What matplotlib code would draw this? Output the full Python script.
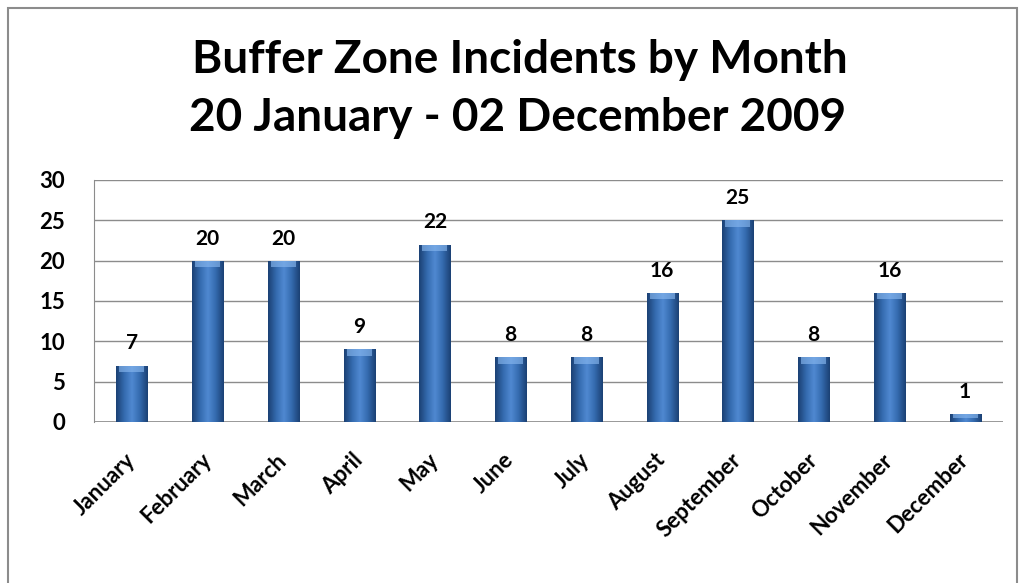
import numpy as np
import matplotlib
matplotlib.use("Agg")
import matplotlib.pyplot as plt
from matplotlib.colors import LinearSegmentedColormap
from matplotlib.patches import Rectangle

plt.rcParams["font.family"] = ["Lato", "DejaVu Sans"]

months = ["January", "February", "March", "April", "May", "June",
          "July", "August", "September", "October", "November", "December"]
incidents = [7, 20, 20, 9, 22, 8, 8, 16, 25, 8, 16, 1]

fig = plt.figure(figsize=(10.19, 5.83), dpi=100)
ax = fig.add_axes([94 / 1019, 1 - 422 / 583, 909 / 1019, 242 / 583])

# cylinder-ish horizontal gradient for the bars
cmap = LinearSegmentedColormap.from_list(
    "bar", ["#1b4174", "#346aae", "#5089d2", "#346aae", "#1b4174"])
grad = np.linspace(0, 1, 64).reshape(1, -1)

x = np.arange(len(months))
bars = ax.bar(x, incidents, width=0.41, color="none", edgecolor="none", zorder=3)

for bar, v in zip(bars, incidents):
    bx, bw, bh = bar.get_x(), bar.get_width(), bar.get_height()
    im = ax.imshow(grad, cmap=cmap, aspect="auto", extent=[bx, bx + bw, 0, bh],
                   zorder=3, interpolation="bicubic")
    im.set_clip_path(bar)
    # lighter cap on top
    cap = min(0.8, bh * 0.5)
    ax.add_patch(Rectangle((bx + bw * 0.1, bh - cap), bw * 0.8, cap,
                           facecolor="#86b6ee", edgecolor="none", alpha=0.65, zorder=4))
    ax.text(bx + bw / 2, bh + 1.5, str(v), ha="center", va="bottom",
            fontsize=15, fontweight="bold", zorder=5)

ax.set_xlim(-0.5, len(months) - 0.5)
ax.set_ylim(0, 30)
ax.set_yticks(range(0, 31, 5))
ax.yaxis.grid(True, color="#8c8c8c", linewidth=1)
ax.set_axisbelow(True)
for s in ["top", "right", "bottom"]:
    ax.spines[s].set_visible(False)
ax.spines["left"].set_color("#8c8c8c")
ax.axhline(0, color="#8c8c8c", linewidth=1.2, zorder=2)
ax.tick_params(axis="y", length=0, pad=21, labelsize=16)
ax.tick_params(axis="x", length=0, pad=25, labelsize=16)
for t in ax.get_yticklabels():
    t.set_fontweight("bold")
ax.set_xticks(x)
ax.set_xticklabels(months, rotation=45, ha="right", va="center",
                   rotation_mode="anchor", fontweight="bold")

fig.text(0.51, 1 - 60 / 583, "Buffer Zone Incidents by Month", ha="center",
         va="center", fontsize=33, fontweight="bold")
fig.text(0.508, 1 - 118 / 583, "20 January - 02 December 2009", ha="center",
         va="center", fontsize=33, fontweight="bold")

# outer chart border
fig.add_artist(Rectangle((8 / 1019, -0.01), 1009 / 1019, 1 - 8 / 583 + 0.01,
                         transform=fig.transFigure, fill=False,
                         edgecolor="#8c8c8c", linewidth=1.5))

fig.savefig("out.png", dpi=100)
